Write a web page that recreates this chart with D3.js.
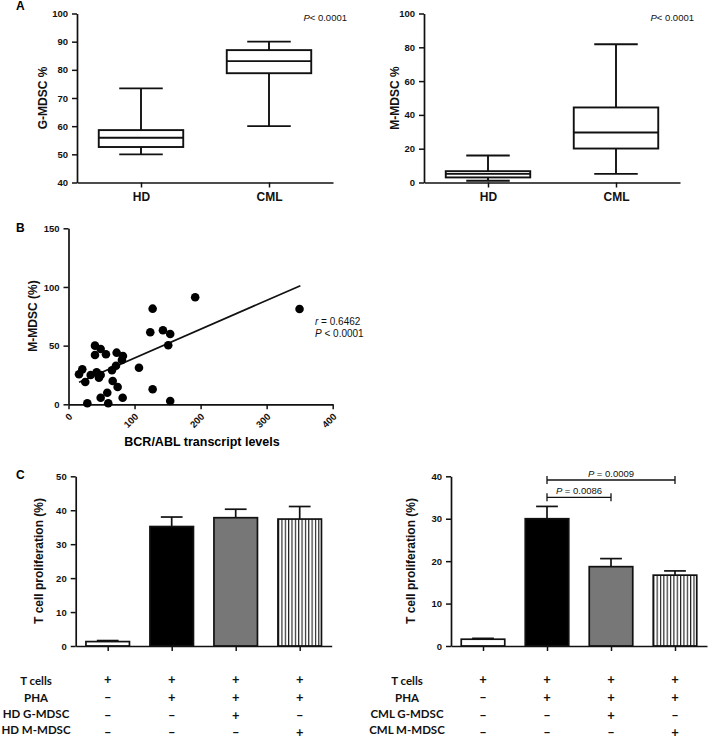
<!DOCTYPE html>
<html><head><meta charset="utf-8">
<script src="https://cdn.jsdelivr.net/npm/d3@7"></script>
<style>
body{margin:0;background:#fff}
svg{display:block}
svg text{font-family:"Liberation Sans",Arial,sans-serif}
svg text.tbl{font-family:Lato,"Open Sans",sans-serif}
</style></head>
<body>
<script>
// ---------- DATA ----------
const boxGroups = ["HD", "CML"];
// [min, q1, median, q3, max]
const gMdscBox = [[50, 52.6, 55.9, 58.6, 73.4], [60, 78.8, 83.1, 87, 90]];
const mMdscBox = [[1, 3, 5.1, 6.7, 16], [5.1, 20.1, 29.6, 44.4, 81.8]];
const gMdscTicks = [40, 50, 60, 70, 80, 90, 100];
const mMdscTicks = [0, 20, 40, 60, 80, 100];

const bcrAbl = [15.9, 20.9, 25.4, 28.5, 33.6, 40.1, 40.1, 42.6, 46.1, 48.7, 48.7, 48.7, 56.7, 58.7, 60.2, 65.8, 66.9, 71.9, 72.9, 74.4, 80.9, 82.4, 82, 106.7, 123.8, 127.4, 127.4, 143, 151, 154, 154, 191.8, 349.8];
const mMdscPct = [25.6, 29.8, 19.0, 0.9, 25, 42, 50, 27.3, 22.7, 47.1, 25, 5.6, 42.6, 9.9, 0.9, 29, 19.9, 32.9, 44, 14.7, 37.8, 41.2, 5.6, 31.2, 61.4, 81.5, 12.8, 63.1, 50.3, 59.9, 2.8, 91.2, 81.2];
const fitX = [16, 351];
const fitY = [18.8, 101.1];
const scatterXTicks = [0, 100, 200, 300, 400];
const scatterYTicks = [0, 50, 100, 150];

const conditions = ["c1", "c2", "c3", "c4"];
const hdProlif = [1.3, 35.2, 37.8, 37.4];
const hdErr = [1.6, 38.0, 40.3, 41.1];
const cmlProlif = [1.6, 30.0, 18.7, 16.7];
const cmlErr = [1.8, 32.9, 20.6, 17.7];
const hdTicks = [0, 10, 20, 30, 40, 50];
const cmlTicks = [0, 10, 20, 30, 40];

const rowLabelsHD = ["T cells", "PHA", "HD G-MDSC", "HD M-MDSC"];
const rowLabelsCML = ["T cells", "PHA", "CML G-MDSC", "CML M-MDSC"];
const tableSigns = [["+", "+", "+", "+"], ["–", "+", "+", "+"], ["–", "–", "+", "–"], ["–", "–", "–", "+"]];
const barFills = ["white", "black", "#777777", "url(#stripes)"];
const cmlBrackets = [{from: 1, to: 2, label: "0.0086"}, {from: 1, to: 3, label: "0.0009"}];

// ---------- DRAW ----------
const W = 709, H = 743;
const svg = d3.select("body").append("svg").attr("width", W).attr("height", H);
const defs = svg.append("defs");
const pat = defs.append("pattern").attr("id", "stripes").attr("patternUnits", "userSpaceOnUse")
  .attr("width", 3.35).attr("height", 10);
pat.append("rect").attr("width", 3.35).attr("height", 10).attr("fill", "white");
pat.append("line").attr("x1", 0.6).attr("x2", 0.6).attr("y1", 0).attr("y2", 10).attr("stroke", "black").attr("stroke-width", 1);

function styleAxis(g, fs) {
  g.selectAll(".domain").attr("stroke", "#111").attr("stroke-width", 1.7);
  g.selectAll(".tick line").attr("stroke", "#111").attr("stroke-width", 1.5);
  g.selectAll(".tick text").attr("font-size", fs).attr("font-weight", "bold").attr("fill", "#111");
}
function yLabel(x, y, txt, fs) {
  svg.append("text").attr("transform", `translate(${x},${y}) rotate(-90)`).attr("text-anchor", "middle")
    .attr("font-size", fs).attr("font-weight", "bold").attr("fill", "#111").text(txt);
}
function letter(x, y, t) {
  svg.append("text").attr("x", x).attr("y", y).attr("font-size", 12).attr("font-weight", "bold").text(t);
}
function pText(x, y, rest, anchor, fs) {
  const t = svg.append("text").attr("x", x).attr("y", y).attr("font-size", fs).attr("text-anchor", anchor || "start").attr("fill", "#111");
  t.append("tspan").attr("font-style", "italic").text("P");
  t.append("tspan").text(rest);
}

// Panel A boxplots
function boxPanel(x0, x1, y0, y1, domain, ticks, data, label, labelX) {
  const y = d3.scaleLinear().domain(domain).range([y0, y1]);
  const x = d3.scalePoint().domain(boxGroups).range([x0, x1]).padding(0.5);
  const ya = svg.append("g").attr("transform", `translate(${x0},0)`)
    .call(d3.axisLeft(y).tickValues(ticks).tickSize(5).tickPadding(4).tickSizeOuter(0));
  styleAxis(ya, 9.5);
  const xa = svg.append("g").attr("transform", `translate(0,${y0})`)
    .call(d3.axisBottom(x).tickSize(5).tickPadding(5).tickSizeOuter(0));
  styleAxis(xa, 12);
  const bw = x.step() * 0.66, cw = x.step() * 0.34;
  boxGroups.forEach((g, i) => {
    const [mn, q1, md, q3, mx] = data[i];
    const cx = x(g);
    const gg = svg.append("g").attr("stroke", "#111").attr("stroke-width", 1.9).attr("fill", "none");
    gg.append("line").attr("x1", cx).attr("x2", cx).attr("y1", y(mx)).attr("y2", y(q3));
    gg.append("line").attr("x1", cx).attr("x2", cx).attr("y1", y(q1)).attr("y2", y(mn));
    gg.append("line").attr("x1", cx - cw / 2).attr("x2", cx + cw / 2).attr("y1", y(mx)).attr("y2", y(mx));
    gg.append("line").attr("x1", cx - cw / 2).attr("x2", cx + cw / 2).attr("y1", y(mn)).attr("y2", y(mn));
    gg.append("rect").attr("x", cx - bw / 2).attr("width", bw).attr("y", y(q3)).attr("height", y(q1) - y(q3)).attr("fill", "white");
    gg.append("line").attr("x1", cx - bw / 2).attr("x2", cx + bw / 2).attr("y1", y(md)).attr("y2", y(md));
  });
  yLabel(labelX, (y0 + y1) / 2, label, 12);
  pText(x1 + 14, 21, "< 0.0001", "end", 9.5);
}
boxPanel(77, 333, 182.5, 13.5, [40, 100], gMdscTicks, gMdscBox, "G-MDSC %", 47);
boxPanel(424, 680, 182.5, 13.5, [0, 100], mMdscTicks, mMdscBox, "M-MDSC %", 399);
letter(16, 10, "A");

// Panel B scatter
{
  const x = d3.scaleLinear().domain([0, 400]).range([68.5, 332.7]);
  const y = d3.scaleLinear().domain([0, 150]).range([404.3, 228.3]);
  const ya = svg.append("g").attr("transform", `translate(68.5,0)`)
    .call(d3.axisLeft(y).tickValues(scatterYTicks).tickSize(5).tickPadding(4).tickSizeOuter(0));
  styleAxis(ya, 9.5);
  const xa = svg.append("g").attr("transform", `translate(0,404.3)`)
    .call(d3.axisBottom(x).tickValues(scatterXTicks).tickSize(5).tickSizeOuter(0));
  styleAxis(xa, 9.5);
  xa.selectAll(".tick text").attr("text-anchor", "end").attr("dy", 0).attr("y", 0)
    .attr("transform", "translate(4,13) rotate(-45)");
  svg.append("line").attr("x1", x(fitX[0])).attr("x2", x(fitX[1])).attr("y1", y(fitY[0])).attr("y2", y(fitY[1]))
    .attr("stroke", "#111").attr("stroke-width", 1.7);
  svg.append("g").selectAll("circle").data(bcrAbl).join("circle")
    .attr("cx", d => x(d)).attr("cy", (d, i) => y(mMdscPct[i])).attr("r", 4.3).attr("fill", "#000");
  yLabel(37, 316, "M-MDSC (%)", 12);
  svg.append("text").attr("x", 202).attr("y", 446).attr("text-anchor", "middle").attr("font-size", 12.5)
    .attr("font-weight", "bold").text("BCR/ABL transcript levels");
  const r = svg.append("text").attr("x", 315).attr("y", 325).attr("font-size", 10).attr("fill", "#111");
  r.append("tspan").attr("font-style", "italic").text("r");
  r.append("tspan").text(" = 0.6462");
  pText(315, 337, " < 0.0001", "start", 10);
  letter(16, 232, "B");
}

// Panel C bars
function barPanel(x0, x1, ymax, ticks, vals, errs, rowLabels, labelX, tableX, brackets) {
  const y = d3.scaleLinear().domain([0, ymax]).range([646, 476.3]);
  const x = d3.scalePoint().domain(conditions).range([x0, x1]).padding(0.5);
  const ya = svg.append("g").attr("transform", `translate(${x0},0)`)
    .call(d3.axisLeft(y).tickValues(ticks).tickSize(5).tickPadding(4).tickSizeOuter(0));
  styleAxis(ya, 9.5);
  const bw = x.step() * 0.68, cw = x.step() * 0.34;
  conditions.forEach((c, i) => {
    const cx = x(c);
    const g = svg.append("g").attr("stroke", "#111").attr("stroke-width", 1.7);
    g.append("line").attr("x1", cx).attr("x2", cx).attr("y1", y(vals[i])).attr("y2", y(errs[i]));
    g.append("line").attr("x1", cx - cw / 2).attr("x2", cx + cw / 2).attr("y1", y(errs[i])).attr("y2", y(errs[i]));
    g.append("rect").attr("x", cx - bw / 2).attr("width", bw).attr("y", y(vals[i])).attr("height", y(0) - y(vals[i]))
      .attr("fill", barFills[i]);
  });
  const xa = svg.append("g").attr("transform", `translate(0,646)`)
    .call(d3.axisBottom(x).tickSize(5).tickFormat("").tickSizeOuter(0));
  styleAxis(xa, 9.5);
  yLabel(labelX, 561, "T cell proliferation (%)", 12);
  const rowY = [681, 697.5, 713.5, 729.5];
  rowLabels.forEach((l, r) => {
    svg.append("text").attr("class", "tbl").attr("x", tableX).attr("y", rowY[r] + 4).attr("text-anchor", "middle")
      .attr("font-weight", "bold").attr("font-size", 11.5).attr("fill", "#111").text(l);
    tableSigns[r].forEach((s, i) => {
      svg.append("text").attr("class", "tbl").attr("x", x(conditions[i])).attr("y", rowY[r] + 3 + r * 1.5).attr("text-anchor", "middle")
        .attr("font-weight", "bold").attr("font-size", 13).attr("fill", "#111").text(s);
    });
  });
  (brackets || []).forEach((b, k) => {
    const by = k === 0 ? 497.3 : 480;
    const xa1 = x(conditions[b.from]), xb = x(conditions[b.to]);
    const g = svg.append("g").attr("stroke", "#111").attr("stroke-width", 1.3);
    g.append("line").attr("x1", xa1).attr("x2", xb).attr("y1", by).attr("y2", by);
    g.append("line").attr("x1", xa1).attr("x2", xa1).attr("y1", by - 4).attr("y2", by + 4);
    g.append("line").attr("x1", xb).attr("x2", xb).attr("y1", by - 4).attr("y2", by + 4);
    pText((xa1 + xb) / 2, by - 3.5, " = " + b.label, "middle", 9.5);
  });
}
barPanel(75.7, 331.7, 50, hdTicks, hdProlif, hdErr, rowLabelsHD, 43, 36);
barPanel(451, 707, 40, cmlTicks, cmlProlif, cmlErr, rowLabelsCML, 415, 407, cmlBrackets);
letter(16, 479, "C");
</script>
</body></html>
